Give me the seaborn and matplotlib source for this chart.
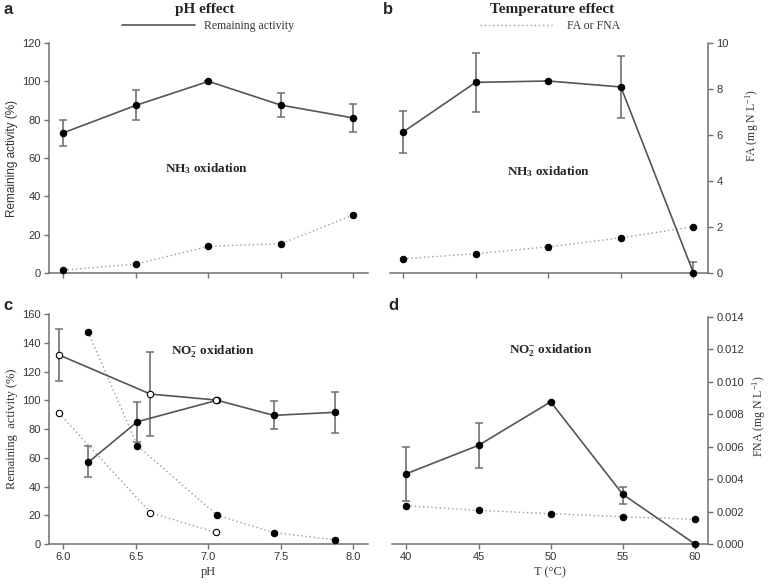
import matplotlib
matplotlib.use("Agg")
import matplotlib.pyplot as plt
from matplotlib.lines import Line2D
from matplotlib.ticker import FormatStrFormatter
import seaborn as sns
import pandas as pd

# ---- data ----
# panel a: pH effect, NH3 oxidation
ph_a = [6.0, 6.5, 7.0, 7.5, 8.0]
act_a = [73.2, 87.5, 100.0, 87.6, 80.9]
act_a_lo = [66.4, 80.1, 100.0, 81.4, 73.6]
act_a_hi = [80.1, 95.3, 100.0, 93.9, 88.2]
fa_a = [1.5, 4.7, 13.9, 15.3, 30.3]

# panel b: temperature effect, NH3 oxidation (right axis scale)
temp = [40, 45, 50, 55, 60]
act_b = [6.13, 8.29, 8.35, 8.09, 0.0]
act_b_lo = [5.22, 6.98, 8.35, 6.72, 0.0]
act_b_hi = [7.03, 9.58, 8.35, 9.43, 0.49]
fa_b = [0.62, 0.84, 1.14, 1.53, 2.01]

# panel c: pH effect, NO2- oxidation
ph_c_open = [5.97, 6.60, 7.05]
act_c_open = [131.5, 104.3, 100.2]
act_c_open_lo = [113.4, 74.9, 100.2]
act_c_open_hi = [149.3, 133.8, 100.2]
fna_c_open = [90.9, 21.8, 8.1]

ph_c_fill = [6.17, 6.51, 7.06, 7.45, 7.87]
act_c_fill = [56.8, 85.1, 100.0, 89.5, 91.6]
act_c_fill_lo = [46.4, 71.0, 100.0, 79.8, 77.4]
act_c_fill_hi = [68.2, 99.0, 100.0, 99.3, 106.0]
fna_c_fill = [147.5, 68.4, 20.0, 7.9, 3.0]

# panel d: temperature effect, NO2- oxidation (right axis scale)
act_d = [0.00433, 0.00608, 0.00876, 0.00306, 0.0]
act_d_lo = [0.00267, 0.00466, 0.00876, 0.00248, 0.0]
act_d_hi = [0.00599, 0.00747, 0.00876, 0.00353, 0.0]
fna_d = [0.00236, 0.00207, 0.00187, 0.00168, 0.00152]

ph_ticks = [6.0, 6.5, 7.0, 7.5, 8.0]
temp_ticks = [40, 45, 50, 55, 60]

# ---- style ----
sns.set_style("ticks")
plt.rcParams["font.family"] = ["Liberation Sans", "DejaVu Sans"]
plt.rcParams["mathtext.fontset"] = "custom"
plt.rcParams["mathtext.rm"] = "Liberation Serif"
plt.rcParams["mathtext.bf"] = "Liberation Serif:bold"
plt.rcParams["mathtext.it"] = "Liberation Serif:italic"

SERIF = "Liberation Serif"
LINE = "#555555"
DOT = "#9a9a9a"
SPINE = "#707070"
TXT = "#333333"

fig = plt.figure(figsize=(7.7, 5.84), dpi=100)
ax_a = fig.add_axes([0.0636, 0.5325, 0.4143, 0.3938])
ax_b = fig.add_axes([0.5065, 0.5325, 0.4130, 0.3938])
ax_c = fig.add_axes([0.0636, 0.0685, 0.4143, 0.3938])
ax_d = fig.add_axes([0.5090, 0.0685, 0.4104, 0.3890])


def solid(ax, x, y, lo, hi, face="black"):
    df = pd.DataFrame({"x": x, "y": y})
    ax.errorbar(x, y, yerr=[[a - b for a, b in zip(y, lo)], [b - a for a, b in zip(y, hi)]],
                fmt="none", ecolor=SPINE, elinewidth=1.2, capsize=3, capthick=1.1,
                zorder=2, clip_on=False)
    sns.lineplot(data=df, x="x", y="y", ax=ax, estimator=None, sort=False,
                 color=LINE, linewidth=1.2, marker="o", markersize=4.6,
                 markerfacecolor=face, markeredgecolor="black", markeredgewidth=0.8,
                 zorder=3, clip_on=False)


def dotted(ax, x, y, face="black"):
    df = pd.DataFrame({"x": x, "y": y})
    sns.lineplot(data=df, x="x", y="y", ax=ax, estimator=None, sort=False,
                 color=DOT, linewidth=1.0, linestyle=(0, (1, 2)), marker="o",
                 markersize=4.6, markerfacecolor=face, markeredgecolor="black",
                 markeredgewidth=0.8, zorder=3, clip_on=False)


def style(ax, side):
    for s in ["top", "left", "right", "bottom"]:
        ax.spines[s].set_visible(False)
    ax.spines["bottom"].set_visible(True)
    ax.spines[side].set_visible(True)
    for s in ["bottom", side]:
        ax.spines[s].set_color(SPINE)
        ax.spines[s].set_linewidth(1.1)
    if side == "right":
        ax.yaxis.tick_right()
        ax.yaxis.set_label_position("right")
    ax.tick_params(direction="out", length=3.5, width=1.0, color=SPINE,
                   labelsize=8, labelcolor=TXT, pad=2.5)
    ax.set_xlabel("")
    ax.set_ylabel("")


# panel a
dotted(ax_a, ph_a, fa_a)
solid(ax_a, ph_a, act_a, act_a_lo, act_a_hi)
ax_a.set_xlim(5.9, 8.1)
ax_a.set_ylim(0, 120)
ax_a.set_yticks(range(0, 121, 20))
style(ax_a, "left")
ax_a.set_xticks(ph_ticks)
ax_a.set_xticklabels([])
ax_a.set_ylabel("Remaining activity (%)", fontsize=8.5, color=TXT, labelpad=3)
ax_a.text(6.99, 54.4, r"NH$_\mathbf{3}$ oxidation", family=SERIF, fontweight="bold",
          fontsize=9.5, ha="center", va="center")
ax_a.text(0.489, 1.145, "pH effect", transform=ax_a.transAxes, family=SERIF,
          fontweight="bold", fontstyle="normal", fontsize=11, ha="center", va="center")
ax_a.legend(handles=[Line2D([], [], color=LINE, linewidth=1.2)], labels=["Remaining activity"],
            loc="center", bbox_to_anchor=(0.498, 1.075), frameon=False, handlelength=6.2,
            handletextpad=0.8, prop={"family": SERIF, "size": 8.5}, labelcolor=TXT)

# panel b
dotted(ax_b, temp, fa_b)
solid(ax_b, temp, act_b, act_b_lo, act_b_hi)
ax_b.set_xlim(39.1, 61.0)
ax_b.set_ylim(0, 10)
ax_b.set_yticks(range(0, 11, 2))
style(ax_b, "right")
ax_b.set_xticks(temp_ticks)
ax_b.set_xticklabels([])
ax_b.set_ylabel(r"FA (mg N L$^{-1}$)", family=SERIF, fontsize=8.5, color=TXT)
ax_b.yaxis.set_label_coords(1.11, 0.64)
ax_b.text(50, 4.4, r"NH$_\mathbf{3}$ oxidation", family=SERIF, fontweight="bold",
          fontsize=9.5, ha="center", va="center")
ax_b.text(0.509, 1.145, "Temperature effect", transform=ax_b.transAxes, family=SERIF,
          fontweight="bold", fontstyle="normal", fontsize=11, ha="center", va="center")
ax_b.legend(handles=[Line2D([], [], color=DOT, linewidth=1.0, linestyle=(0, (1, 2)))],
            labels=["FA or FNA"], loc="center", bbox_to_anchor=(0.503, 1.075), frameon=False,
            handlelength=6.2, handletextpad=1.2, prop={"family": SERIF, "size": 8.5},
            labelcolor=TXT)

# panel c
dotted(ax_c, ph_c_open, fna_c_open, face="white")
dotted(ax_c, ph_c_fill, fna_c_fill)
solid(ax_c, ph_c_fill, act_c_fill, act_c_fill_lo, act_c_fill_hi)
solid(ax_c, ph_c_open, act_c_open, act_c_open_lo, act_c_open_hi, face="white")
ax_c.set_xlim(5.9, 8.1)
ax_c.set_ylim(0, 160)
ax_c.set_yticks(range(0, 161, 20))
style(ax_c, "left")
ax_c.set_xticks(ph_ticks)
ax_c.xaxis.set_major_formatter(FormatStrFormatter("%.1f"))
ax_c.set_xlabel("pH", family=SERIF, fontsize=9, color=TXT, labelpad=3)
ax_c.set_ylabel("Remaining  activity (%)", family=SERIF, fontsize=9, color=TXT, labelpad=3)
ax_c.text(7.03, 134, r"NO$_\mathbf{2}^\mathbf{-}$ oxidation", family=SERIF, fontweight="bold",
          fontsize=9.5, ha="center", va="center")

# panel d
dotted(ax_d, temp, fna_d)
solid(ax_d, temp, act_d, act_d_lo, act_d_hi)
ax_d.set_xlim(39.0, 60.9)
ax_d.set_ylim(0, 0.014)
ax_d.set_yticks([0.0, 0.002, 0.004, 0.006, 0.008, 0.010, 0.012, 0.014])
ax_d.yaxis.set_major_formatter(FormatStrFormatter("%.3f"))
style(ax_d, "right")
ax_d.set_xticks(temp_ticks)
ax_d.set_xlabel("T (°C)", family=SERIF, fontsize=9, color=TXT, labelpad=3)
ax_d.set_ylabel(r"FNA (mg N L$^{-1}$)", family=SERIF, fontsize=8.5, color=TXT)
ax_d.yaxis.set_label_coords(1.135, 0.56)
ax_d.text(50, 0.01195, r"NO$_\mathbf{2}^\mathbf{-}$ oxidation", family=SERIF,
          fontweight="bold", fontsize=9.5, ha="center", va="center")

# panel letters
for x, y, s in [(0.004, 0.997, "a"), (0.497, 0.997, "b"), (0.004, 0.49, "c"), (0.505, 0.49, "d")]:
    fig.text(x, y, s, fontsize=12, fontweight="bold", va="top", ha="left")

fig.savefig("out.png", dpi=100)
